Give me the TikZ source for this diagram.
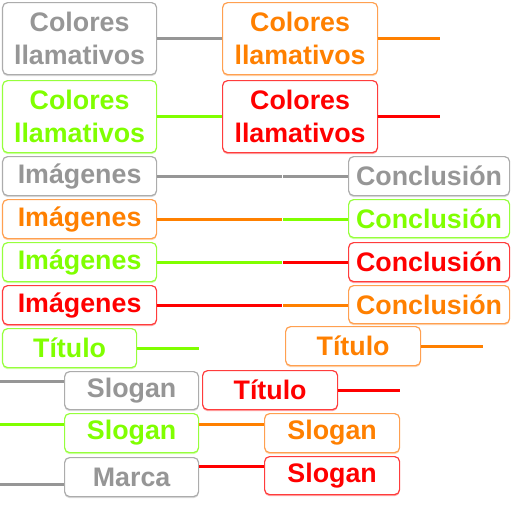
\documentclass[tikz,border=0pt]{standalone}
\usepackage{fontspec}
\setmainfont{Liberation Sans}
\usetikzlibrary{shadows}
\definecolor{gyT}{RGB}{150,150,150}
\definecolor{gyB}{RGB}{172,172,172}
\definecolor{orT}{RGB}{255,128,0}
\definecolor{orB}{RGB}{255,160,80}
\definecolor{grT}{RGB}{128,255,0}
\definecolor{grB}{RGB}{150,255,60}
\definecolor{rdT}{RGB}{255,0,0}
\definecolor{rdB}{RGB}{255,60,60}
\tikzset{
  bx/.style={rectangle, rounded corners=5pt, fill=white, draw=#1B, text=#1T,
    line width=1.2pt, inner sep=0pt, anchor=north west, align=center,
    font=\bfseries\fontsize{26.8}{33}\selectfont,
    drop shadow={shadow xshift=0pt, shadow yshift=-1.6pt, fill=#1B!45!white, opacity=1}},
  cn/.style={line width=3pt, draw=#1T}
}
\begin{document}
\begin{tikzpicture}[x=1pt,y=-1pt]
\useasboundingbox (0,0) rectangle (512,512);
% row 1-2
\node[bx=gy, minimum width=154, minimum height=72] (c1) at (2,2) {Colores\\llamativos};
\node[bx=or, minimum width=155, minimum height=72] (c2) at (222,2) {Colores\\llamativos};
\node[bx=gr, minimum width=154, minimum height=72] (c3) at (2,80) {Colores\\llamativos};
\node[bx=rd, minimum width=155, minimum height=72] (c4) at (222,80) {Colores\\llamativos};
% imagenes
\node[bx=gy, minimum width=154, minimum height=39] (i1) at (2,156) {Imágenes};
\node[bx=or, minimum width=154, minimum height=39] (i2) at (2,199) {Imágenes};
\node[bx=gr, minimum width=154, minimum height=39] (i3) at (2,242) {Imágenes};
\node[bx=rd, minimum width=154, minimum height=39] (i4) at (2,285) {Imágenes};
% conclusion
\node[bx=gy, minimum width=161, minimum height=39] (k1) at (348,156) {Conclusión};
\node[bx=gr, minimum width=161, minimum height=38] (k2) at (348,199) {Conclusión};
\node[bx=rd, minimum width=161, minimum height=39] (k3) at (348,242) {Conclusión};
\node[bx=or, minimum width=161, minimum height=38] (k4) at (348,285) {Conclusión};
% titulo
\node[bx=gr, minimum width=134, minimum height=39] (t1) at (2,328) {Título};
\node[bx=or, minimum width=135, minimum height=39] (t2) at (285,326) {Título};
\node[bx=rd, minimum width=135, minimum height=39] (t3) at (202,370) {Título};
% slogan / marca
\node[bx=gy, minimum width=134, minimum height=38] (s1) at (64,371) {Slogan};
\node[bx=gr, minimum width=134, minimum height=39] (s2) at (64,413) {Slogan};
\node[bx=or, minimum width=135, minimum height=39] (s3) at (264,413) {Slogan};
\node[bx=gy, minimum width=134, minimum height=39] (m1) at (64,457) {Marca};
\node[bx=rd, minimum width=135, minimum height=38] (s4) at (264,456) {Slogan};
% coordinates
\coordinate (e2) at (440,38);
\coordinate (e4) at (440,116);
\coordinate (jx) at (282.5,0);
\coordinate (et1) at (199,347);
\coordinate (et2) at (483,346);
\coordinate (et3) at (400,390);
\coordinate (a1) at (0,381);
\coordinate (a2) at (0,424);
\coordinate (a3) at (0,484);
\coordinate (q2) at (0,424);
\coordinate (q3) at (0,466);
% connectors
\draw[cn=gy] (c1.east) -- (c1.east -| c2.west);
\draw[cn=or] (c2.east) -- (c2.east -| e2);
\draw[cn=gr] (c3.east) -- (c3.east -| c4.west);
\draw[cn=rd] (c4.east) -- (c4.east -| e4);
\draw[cn=gy] (i1.east) -- ([xshift=-0.5pt]i1.east -| jx);
\draw[cn=gy] ([xshift=0.5pt]i1.east -| jx) -- (i1.east -| k1.west);
\draw[cn=or] (i2.east) -- ([xshift=-0.5pt]i2.east -| jx);
\draw[cn=gr] ([xshift=0.5pt]i2.east -| jx) -- (i2.east -| k2.west);
\draw[cn=gr] (i3.east) -- ([xshift=-0.5pt]i3.east -| jx);
\draw[cn=rd] ([xshift=0.5pt]i3.east -| jx) -- (i3.east -| k3.west);
\draw[cn=rd] (i4.east) -- ([xshift=-0.5pt]i4.east -| jx);
\draw[cn=or] ([xshift=0.5pt]i4.east -| jx) -- (i4.east -| k4.west);
\draw[cn=gr] (t1.east) -- (t1.east -| et1);
\draw[cn=or] (t2.east) -- (t2.east -| et2);
\draw[cn=rd] (t3.east) -- (t3.east -| et3);
\draw[cn=gy] (a1) -- (a1 -| s1.west);
\draw[cn=gr] (a2) -- (a2 -| s2.west);
\draw[cn=gy] (a3) -- (a3 -| m1.west);
\draw[cn=or] (s2.east |- q2) -- (s3.west |- q2);
\draw[cn=rd] (m1.east |- q3) -- (s4.west |- q3);
\end{tikzpicture}
\end{document}
